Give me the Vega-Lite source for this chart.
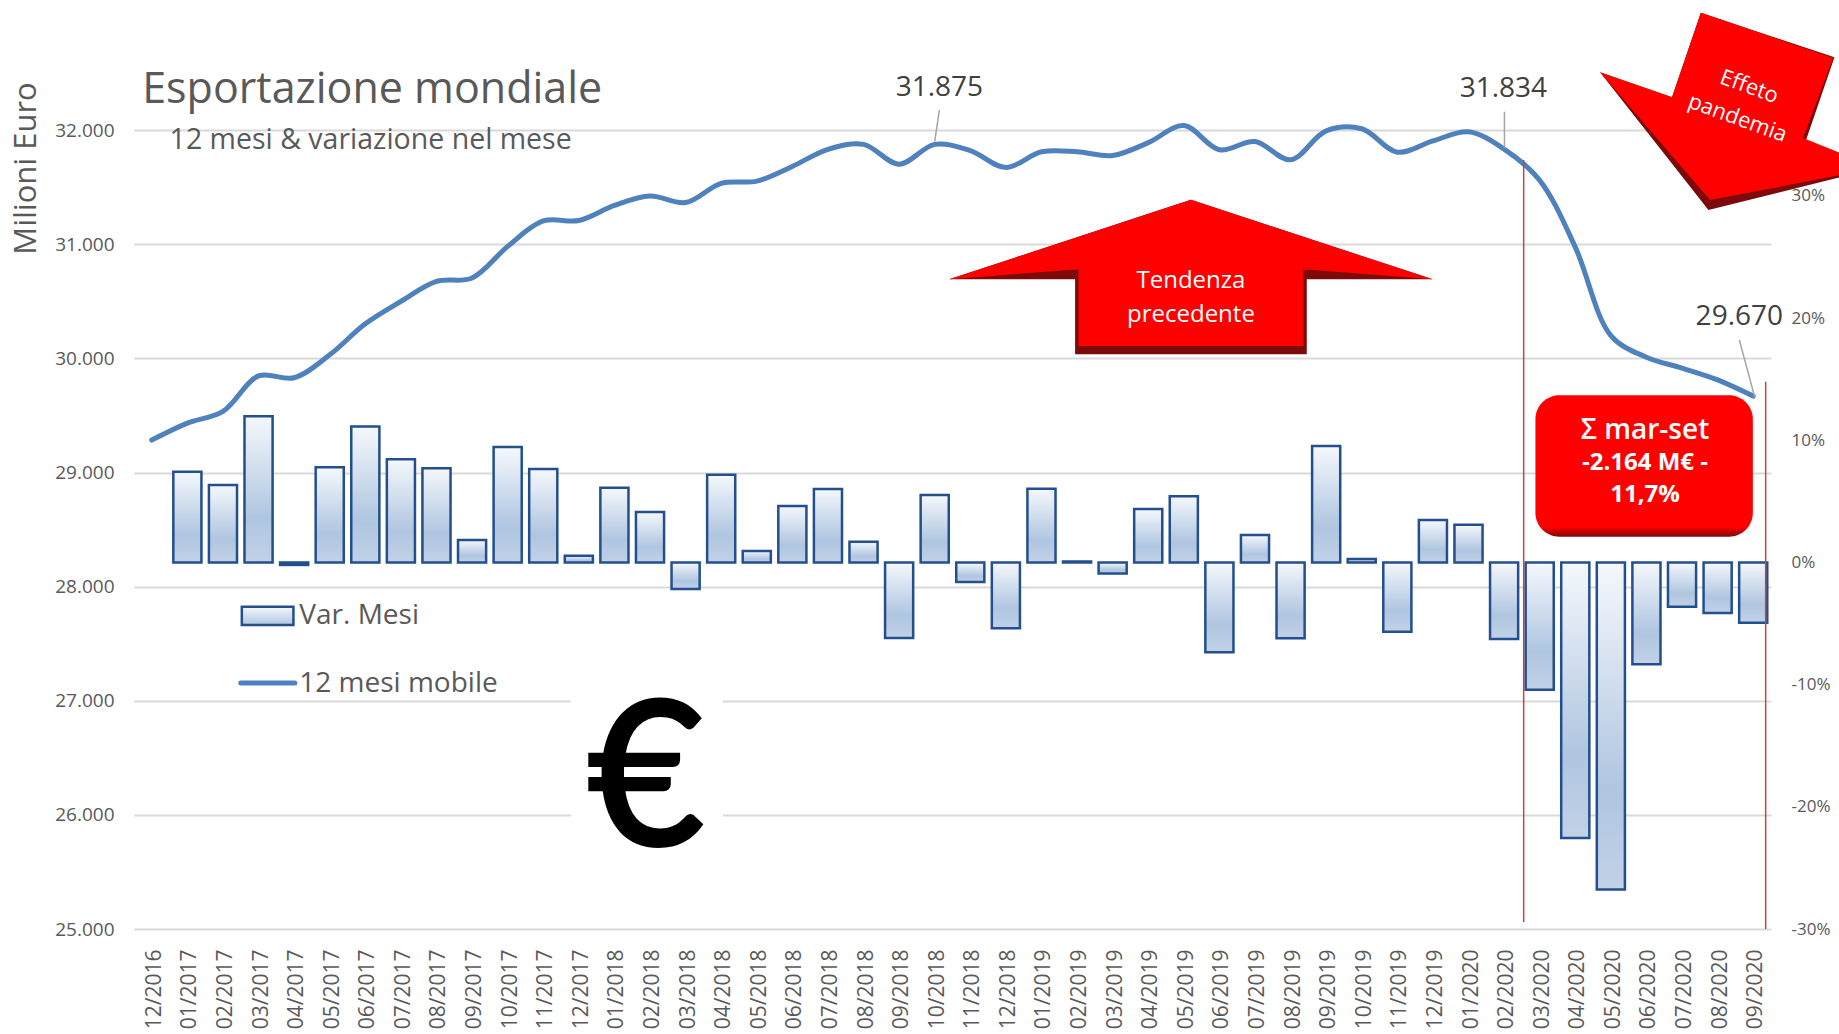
{"$schema":"https://vega.github.io/schema/vega-lite/v6.json","autosize":"none","width":1637,"height":913,"padding":{"left":134,"top":16,"right":68,"bottom":105},"background":"#ffffff","config":{"view":{"stroke":null},"font":"Open Sans","text":{"font":"Open Sans"}},"datasets":{"monthly":[{"mese":"12/2016","var":null,"mobile":29284},{"mese":"01/2017","var":0.0743,"mobile":29433},{"mese":"02/2017","var":0.0634,"mobile":29535},{"mese":"03/2017","var":0.1196,"mobile":29846},{"mese":"04/2017","var":-0.002,"mobile":29830},{"mese":"05/2017","var":0.0779,"mobile":30031},{"mese":"06/2017","var":0.1114,"mobile":30303},{"mese":"07/2017","var":0.0844,"mobile":30499},{"mese":"08/2017","var":0.0771,"mobile":30674},{"mese":"09/2017","var":0.0184,"mobile":30705},{"mese":"10/2017","var":0.0945,"mobile":30981},{"mese":"11/2017","var":0.0765,"mobile":31204},{"mese":"12/2017","var":0.0056,"mobile":31208},{"mese":"01/2018","var":0.0612,"mobile":31340},{"mese":"02/2018","var":0.0413,"mobile":31423},{"mese":"03/2018","var":-0.0217,"mobile":31365},{"mese":"04/2018","var":0.0719,"mobile":31534},{"mese":"05/2018","var":0.0094,"mobile":31553},{"mese":"06/2018","var":0.0462,"mobile":31682},{"mese":"07/2018","var":0.0601,"mobile":31832},{"mese":"08/2018","var":0.017,"mobile":31875},{"mese":"09/2018","var":-0.0618,"mobile":31702},{"mese":"10/2018","var":0.0552,"mobile":31875},{"mese":"11/2018","var":-0.016,"mobile":31820},{"mese":"12/2018","var":-0.0539,"mobile":31673},{"mese":"01/2019","var":0.0604,"mobile":31810},{"mese":"02/2019","var":0.0008,"mobile":31810},{"mese":"03/2019","var":-0.0091,"mobile":31778},{"mese":"04/2019","var":0.0438,"mobile":31890},{"mese":"05/2019","var":0.0542,"mobile":32040},{"mese":"06/2019","var":-0.0735,"mobile":31828},{"mese":"07/2019","var":0.0225,"mobile":31900},{"mese":"08/2019","var":-0.062,"mobile":31740},{"mese":"09/2019","var":0.0953,"mobile":31994},{"mese":"10/2019","var":0.0029,"mobile":32012},{"mese":"11/2019","var":-0.0566,"mobile":31807},{"mese":"12/2019","var":0.0348,"mobile":31905},{"mese":"01/2020","var":0.0309,"mobile":31985},{"mese":"02/2020","var":-0.0626,"mobile":31834},{"mese":"03/2020","var":-0.1041,"mobile":31560},{"mese":"04/2020","var":-0.2255,"mobile":30975},{"mese":"05/2020","var":-0.2677,"mobile":30200},{"mese":"06/2020","var":-0.0833,"mobile":30010},{"mese":"07/2020","var":-0.0362,"mobile":29915},{"mese":"08/2020","var":-0.0413,"mobile":29812},{"mese":"09/2020","var":-0.0493,"mobile":29670}]},"resolve":{"scale":{"x":"independent","y":"independent"},"axis":{"x":"independent","y":"independent"}},"layer":[{"data":{"name":"monthly"},"transform":[{"filter":"datum['var'] !== null"}],"mark":{"type":"bar","stroke":"#234f8e","strokeWidth":2.5,"color":{"gradient":"linear","x1":0,"y1":0,"x2":0,"y2":1,"stops":[{"offset":0,"color":"#f5f8fc"},{"offset":0.7,"color":"#afc5e0"},{"offset":1,"color":"#c2d2e7"}]}},"encoding":{"x":{"field":"mese","type":"nominal","sort":null,"scale":{"domain":["12/2016","01/2017","02/2017","03/2017","04/2017","05/2017","06/2017","07/2017","08/2017","09/2017","10/2017","11/2017","12/2017","01/2018","02/2018","03/2018","04/2018","05/2018","06/2018","07/2018","08/2018","09/2018","10/2018","11/2018","12/2018","01/2019","02/2019","03/2019","04/2019","05/2019","06/2019","07/2019","08/2019","09/2019","10/2019","11/2019","12/2019","01/2020","02/2020","03/2020","04/2020","05/2020","06/2020","07/2020","08/2020","09/2020"],"paddingInner":0.21,"paddingOuter":0.105},"axis":{"title":null,"orient":"bottom","labelAngle":270,"labelFont":"Open Sans","labelFontSize":21,"labelColor":"#595959","labelPadding":20,"labelOffset":3,"labelOverlap":false,"ticks":false,"domain":false,"grid":false,"labelAlign":"right","labelBaseline":"middle"}},"y":{"field":"var","type":"quantitative","scale":{"domain":[-0.3,0.4473],"nice":false,"zero":false},"axis":{"title":null,"orient":"right","values":[-0.3,-0.2,-0.1,0,0.1,0.2,0.3],"labelExpr":"replace(format(datum.value,'.0%'),'−','-')","labelFont":"Open Sans","labelFontSize":17,"labelColor":"#595959","labelPadding":20,"ticks":false,"domain":false,"grid":false}}}},{"data":{"name":"monthly"},"mark":{"type":"line","interpolate":"catmull-rom","stroke":"#4f81bd","strokeWidth":5,"strokeCap":"round"},"encoding":{"x":{"field":"mese","type":"nominal","sort":null,"scale":{"paddingInner":0.21,"paddingOuter":0.105},"axis":null},"y":{"field":"mobile","type":"quantitative","scale":{"domain":[25000,33000],"nice":false,"zero":false},"axis":{"orient":"left","title":"Milioni Euro","titleFont":"Open Sans","titleFontSize":31,"titleFontWeight":"normal","titleColor":"#595959","titleX":-108,"titleY":152,"titleAngle":270,"titleAlign":"center","titleBaseline":"middle","values":[25000,26000,27000,28000,29000,30000,31000,32000],"labelExpr":"replace(format(datum.value,','),',','.')","labelFont":"Open Sans","labelFontSize":19,"labelColor":"#595959","labelPadding":20,"ticks":false,"domain":false,"grid":true,"gridColor":"#d9d9d9","gridWidth":2}}}},{"encoding":{"x":{"field":"x","type":"quantitative","scale":{"domain":[0,46],"nice":false,"zero":false},"axis":null},"y":{"field":"y","type":"quantitative","scale":{"domain":[25000,33000],"nice":false,"zero":false},"axis":null}},"layer":[{"data":{"values":[{"x":12.28,"x2":16.55,"y":27094,"y2":25605}]},"mark":{"type":"rect","color":"#ffffff"},"encoding":{"x2":{"field":"x2"},"y2":{"field":"y2"}}},{"data":{"values":[{"x":3.03,"x2":4.48,"y":27824,"y2":27664}]},"mark":{"type":"rect","stroke":"#234f8e","strokeWidth":2.5,"color":{"gradient":"linear","x1":0,"y1":0,"x2":0,"y2":1,"stops":[{"offset":0,"color":"#f5f8fc"},{"offset":1,"color":"#afc5e0"}]}},"encoding":{"x2":{"field":"x2"},"y2":{"field":"y2"}}},{"data":{"values":[{"x":3.0,"x2":4.52,"y":27156,"y2":27156}]},"mark":{"type":"rule","color":"#4f81bd","strokeWidth":5,"strokeCap":"round"},"encoding":{"x2":{"field":"x2"},"y2":{"field":"y2"}}},{"data":{"values":[{"x":39.05,"x2":39.05,"y":31738,"y2":25061},{"x":45.85,"x2":45.85,"y":29796,"y2":25000}]},"mark":{"type":"rule","color":"#b94a48","strokeWidth":1.5},"encoding":{"x2":{"field":"x2"},"y2":{"field":"y2"}}},{"data":{"values":[{"x":22.63,"x2":22.5,"y":32176,"y2":31899},{"x":38.51,"x2":38.51,"y":32161,"y2":31843},{"x":45.11,"x2":45.54,"y":30161,"y2":29664}]},"mark":{"type":"rule","color":"#a6a6a6","strokeWidth":1.5},"encoding":{"x2":{"field":"x2"},"y2":{"field":"y2"}}},{"data":{"values":[{"x":29.7,"y":30713}]},"mark":{"type":"point","filled":true,"opacity":1,"color":"#7d0a0a","size":233869,"shape":"M0,-0.319 L1,0.0095 L0.479,0.0095 L0.479,0.319 L-0.479,0.319 L-0.479,0.0095 L-1,0.0095 Z"}},{"data":{"values":[{"x":29.7,"y":30713}]},"mark":{"type":"point","filled":true,"opacity":1,"color":"#ff0000","size":233869,"shape":"M0,-0.319 L1,0.0095 L0.49,-0.03 L0.465,-0.03 L0.465,0.285 L-0.465,0.285 L-0.465,-0.03 L-0.49,-0.03 L-1,0.0095 Z"}},{"data":{"values":[{"x":45.13,"y":32176}]},"mark":{"type":"point","filled":true,"opacity":1,"color":"#7d0a0a","size":40000,"shape":"M-0.392,-0.973 L0.944,-0.527 L0.65,0.33 L1.37,0.58 L-0.316,1 L-1.4,-0.377 L-0.68,-0.127 Z"}},{"data":{"values":[{"x":45.13,"y":32176}]},"mark":{"type":"point","filled":true,"opacity":1,"color":"#ff0000","size":40000,"shape":"M-0.392,-0.973 L0.93,-0.52 L0.63,0.28 L1.37,0.58 L-0.3,0.9 L-1.4,-0.377 L-0.68,-0.127 Z"}},{"data":{"values":[{"x":39.38,"x2":45.49,"y":29676,"y2":28437}]},"mark":{"type":"rect","cornerRadius":24,"color":{"gradient":"linear","x1":0,"y1":0,"x2":0,"y2":1,"stops":[{"offset":0,"color":"#ff0000"},{"offset":0.93,"color":"#ff0000"},{"offset":1,"color":"#7d0a0a"}]}},"encoding":{"x2":{"field":"x2"},"y2":{"field":"y2"}}},{"data":{"values":[{"x":0.23,"y":32350,"label":"Esportazione mondiale"}]},"mark":{"type":"text","align":"left","baseline":"middle","fontSize":43,"color":"#595959"},"encoding":{"text":{"field":"label"}}},{"data":{"values":[{"x":1.0,"y":31915,"label":"12 mesi & variazione nel mese"}]},"mark":{"type":"text","align":"left","baseline":"middle","fontSize":28.5,"color":"#595959"},"encoding":{"text":{"field":"label"}}},{"data":{"values":[{"x":22.63,"y":32369,"label":"31.875"},{"x":38.48,"y":32360,"label":"31.834"},{"x":45.11,"y":30365,"label":"29.670"}]},"mark":{"type":"text","align":"center","baseline":"middle","fontSize":28,"color":"#404040"},"encoding":{"text":{"field":"label"}}},{"data":{"values":[{"x":29.7,"y":30680,"label":"Tendenza"},{"x":29.7,"y":30380,"label":"precedente"}]},"mark":{"type":"text","align":"center","baseline":"middle","fontSize":24,"color":"#ffffff"},"encoding":{"text":{"field":"label"}}},{"data":{"values":[{"x":45.39,"y":32381,"label":"Effeto"},{"x":45.06,"y":32106,"label":"pandemia"}]},"mark":{"type":"text","align":"center","baseline":"middle","fontSize":22,"color":"#ffffff","angle":20},"encoding":{"text":{"field":"label"}}},{"data":{"values":[{"x":42.46,"y":29366,"label":"Σ mar-set"}]},"mark":{"type":"text","align":"center","baseline":"middle","fontSize":28,"fontWeight":600,"color":"#ffffff"},"encoding":{"text":{"field":"label"}}},{"data":{"values":[{"x":42.46,"y":29086,"label":"-2.164 M€ -"},{"x":42.46,"y":28800,"label":"11,7%"}]},"mark":{"type":"text","align":"center","baseline":"middle","fontSize":24,"fontWeight":"bold","color":"#ffffff"},"encoding":{"text":{"field":"label"}}},{"data":{"values":[{"x":4.645,"y":27740,"label":"Var. Mesi"},{"x":4.645,"y":27145,"label":"12 mesi mobile"}]},"mark":{"type":"text","align":"left","baseline":"middle","fontSize":28,"color":"#595959"},"encoding":{"text":{"field":"label"}}},{"data":{"values":[{"x":14.39,"y":26258,"label":"€"}]},"mark":{"type":"text","align":"center","baseline":"middle","fontSize":200,"font":"Lato","color":"#000000","stroke":"#000000","strokeWidth":4},"encoding":{"text":{"field":"label"}}}]}]}
